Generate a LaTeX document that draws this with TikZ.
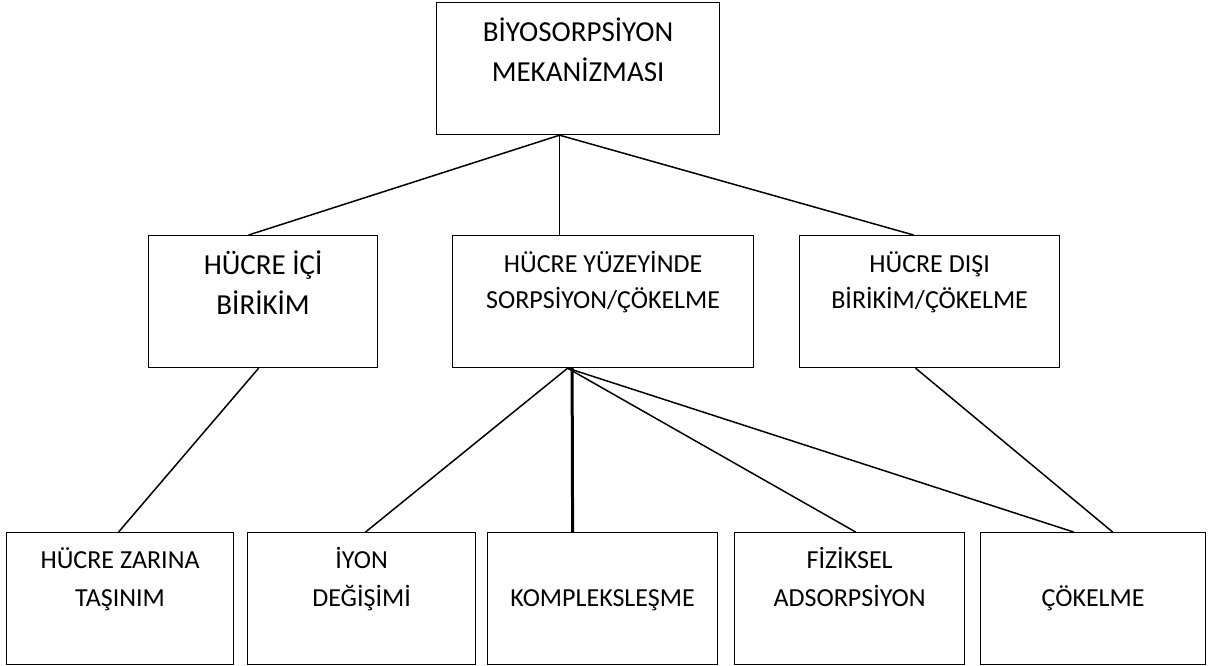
\documentclass[tikz,border=0pt]{standalone}
\usepackage{fontspec}
\setmainfont{Carlito}
\usetikzlibrary{positioning}
\begin{document}
\begin{tikzpicture}[x=1pt,y=-1pt,
  kutu/.style={draw,line width=1.2pt,anchor=north west,minimum height=132pt,inner sep=0pt},
  yazi/.style={align=center,inner sep=0pt,font=\fontsize{26}{38}\selectfont},
  iri/.style={font=\fontsize{29}{40}\selectfont},
  orta/.style={font=\fontsize{26}{36}\selectfont},
  cizgi/.style={line width=1.5pt}]
\useasboundingbox (0,0) rectangle (1219,666);
\node[kutu,minimum width=283pt] (biyo) at (436,2) {};
\node[kutu,minimum width=229pt] (ici) at (148,235) {};
\node[kutu,minimum width=301pt] (yuzey) at (452,235) {};
\node[kutu,minimum width=260pt] (disi) at (799,235) {};
\node[kutu,minimum width=227pt] (zarina) at (6,532) {};
\node[kutu,minimum width=228pt] (iyon) at (247,532) {};
\node[kutu,minimum width=230pt] (kompleks) at (487,532) {};
\node[kutu,minimum width=230pt] (fiziksel) at (734,532) {};
\node[kutu,minimum width=225pt] (cokelme) at (980,532) {};
\node[yazi,iri,below=11pt of biyo.north] (biyoyazi) {\strut BİYOSORPSİYON\\MEKANİZMASI};
\node[yazi,iri,below=11pt of ici.north] (iciyazi) {\strut HÜCRE İÇİ\\BİRİKİM};
\node[yazi,orta,below=11.8pt of yuzey.north] (yuzeyyazi) {\strut HÜCRE YÜZEYİNDE\\SORPSİYON/ÇÖKELME};
\node[yazi,orta,below=11.8pt of disi.north] (disiyazi) {\strut HÜCRE DIŞI\\BİRİKİM/ÇÖKELME};
\node[yazi,below=9.4pt of zarina.north] (zarinayazi) {\strut HÜCRE ZARINA\\TAŞINIM};
\node[yazi,below=9.4pt of iyon.north] (iyonyazi) {\strut İYON\\DEĞİŞİMİ};
\node[yazi,below=47.4pt of kompleks.north] (komplekslyazi) {\strut KOMPLEKSLEŞME};
\node[yazi,below=9.4pt of fiziksel.north] (fizikselyazi) {\strut FİZİKSEL\\ADSORPSİYON};
\node[yazi,below=47.4pt of cokelme.north] (cokelmeyazi) {\strut ÇÖKELME};
\draw[cizgi] ([xshift=-18.5pt]biyo.south) -- ([xshift=-14.5pt]ici.north);
\draw[cizgi] ([xshift=-18.5pt]biyo.south) -- ([xshift=-43.5pt]yuzey.north);
\draw[cizgi] ([xshift=-18.5pt]biyo.south) -- ([xshift=-16pt]disi.north);
\draw[cizgi] ([xshift=-4.5pt]ici.south) -- ([xshift=-1.5pt]zarina.north);
\draw[cizgi] ([xshift=-35.5pt]yuzey.south) -- ([xshift=4pt]iyon.north);
\draw[line width=3pt] ([xshift=-31pt]yuzey.south) -- ([xshift=-30pt]kompleks.north);
\draw[cizgi] ([xshift=-35.5pt]yuzey.south) -- ([xshift=6pt]fiziksel.north);
\draw[cizgi] ([xshift=-35.5pt]yuzey.south) -- ([xshift=-19.5pt]cokelme.north);
\draw[cizgi] ([xshift=-14pt]disi.south) -- ([xshift=19.5pt]cokelme.north);
\end{tikzpicture}
\end{document}
